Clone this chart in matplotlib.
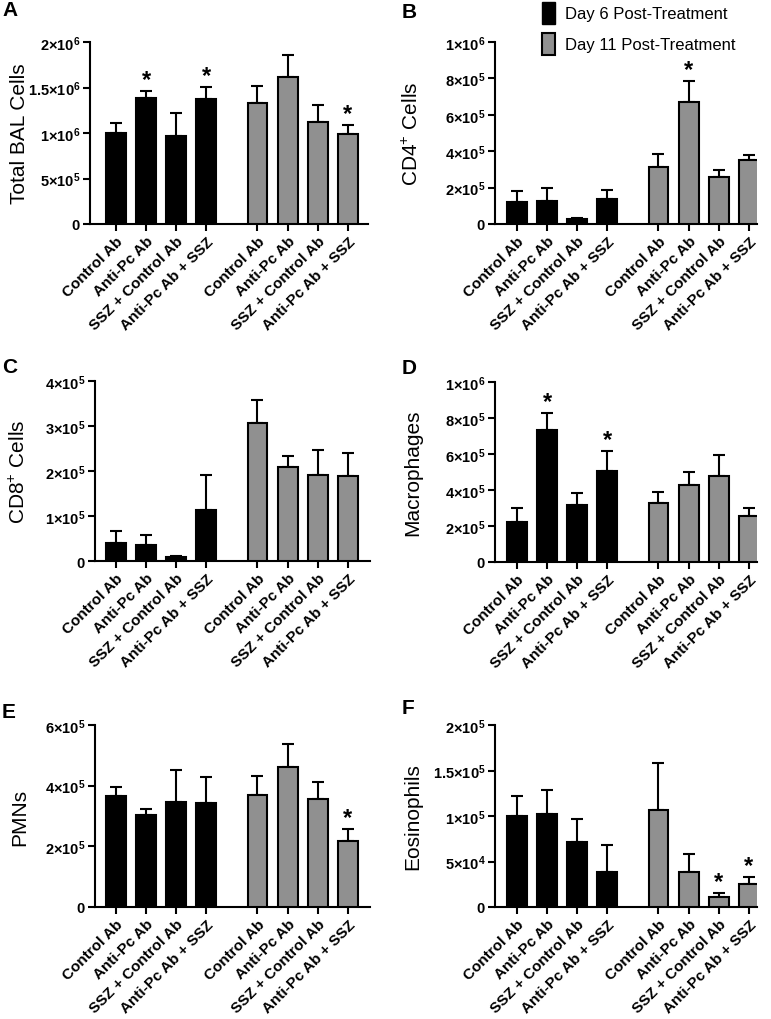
import numpy as np
import matplotlib
matplotlib.use('Agg')
import matplotlib.pyplot as plt
from matplotlib.patches import Patch
from matplotlib.transforms import blended_transform_factory

plt.rcParams['font.family'] = ['Liberation Sans', 'DejaVu Sans']
plt.rcParams['mathtext.fontset'] = 'custom'
plt.rcParams['mathtext.rm'] = 'Liberation Sans'
plt.rcParams['mathtext.it'] = 'Liberation Sans:italic'
plt.rcParams['mathtext.bf'] = 'Liberation Sans:bold'

# treatment groups, repeated for day 6 and day 11
groups = ['Control Ab', 'Anti-Pc Ab', 'SSZ + Control Ab', 'Anti-Pc Ab + SSZ']
days = ['Day 6 Post-Treatment', 'Day 11 Post-Treatment']

# mean and SEM per bar (first 4 = day 6, last 4 = day 11)
total_mean = [1.00e6, 1.38e6, 0.97e6, 1.37e6, 1.33e6, 1.62e6, 1.125e6, 0.99e6]
total_sem = [0.106e6, 0.085e6, 0.247e6, 0.14e6, 0.19e6, 0.24e6, 0.185e6, 0.10e6]
total_stars = [1, 3, 7]

cd4_mean = [1.2e5, 1.28e5, 0.27e5, 1.36e5, 3.15e5, 6.72e5, 2.57e5, 3.53e5]
cd4_sem = [0.6e5, 0.68e5, 0.08e5, 0.52e5, 0.7e5, 1.15e5, 0.41e5, 0.28e5]
cd4_stars = [5]

cd8_mean = [4.0e4, 3.6e4, 0.9e4, 1.13e5, 3.07e5, 2.08e5, 1.92e5, 1.88e5]
cd8_sem = [2.7e4, 2.2e4, 0.2e4, 0.79e5, 0.51e5, 0.26e5, 0.55e5, 0.52e5]
cd8_stars = []

mac_mean = [2.2e5, 7.33e5, 3.18e5, 5.07e5, 3.26e5, 4.3e5, 4.8e5, 2.57e5]
mac_sem = [0.78e5, 0.93e5, 0.65e5, 1.11e5, 0.61e5, 0.68e5, 1.14e5, 0.41e5]
mac_stars = [1, 3]

pmn_mean = [3.67e5, 3.03e5, 3.45e5, 3.42e5, 3.7e5, 4.6e5, 3.56e5, 2.16e5]
pmn_sem = [0.27e5, 0.2e5, 1.06e5, 0.85e5, 0.62e5, 0.76e5, 0.56e5, 0.41e5]
pmn_stars = [7]

eos_mean = [1.0e5, 1.02e5, 7.1e4, 3.9e4, 1.07e5, 3.8e4, 1.1e4, 2.5e4]
eos_sem = [2.2e4, 2.7e4, 2.6e4, 2.9e4, 5.1e4, 2.0e4, 0.4e4, 0.8e4]
eos_stars = [6, 7]

total_ticks = [0, 5e5, 1e6, 1.5e6, 2e6]
cd4_ticks = [0, 2e5, 4e5, 6e5, 8e5, 1e6]
cd8_ticks = [0, 1e5, 2e5, 3e5, 4e5]
mac_ticks = [0, 2e5, 4e5, 6e5, 8e5, 1e6]
pmn_ticks = [0, 2e5, 4e5, 6e5]
eos_ticks = [0, 5e4, 1e5, 1.5e5, 2e5]

W, H = 771, 1020
GRAY = '#909090'
PX_PER_UNIT = 30.1


def sci_label(v):
    if v == 0:
        return r'$\mathbf{0}$'
    exp = int(np.floor(np.log10(v)))
    mant = '%g' % (v / 10 ** exp)
    return r'$\mathbf{%s{\times}10^{%d}}$' % (mant, exp)


# panel: letter, ylabel, data, layout in pixels (left, right, top, bottom, first bar centre, letter x, letter y, ylabel x)
panels = [
    ('A', 'Total BAL Cells', total_mean, total_sem, total_stars, total_ticks, (90, 368, 43, 225, 116, 2, 5, 29)),
    ('B', 'CD4$^{+}$ Cells', cd4_mean, cd4_sem, cd4_stars, cd4_ticks, (495, 757, 43, 225, 517, 402, 7, 422)),
    ('C', 'CD8$^{+}$ Cells', cd8_mean, cd8_sem, cd8_stars, cd8_ticks, (95, 370, 382, 562, 116, 2, 362, 29)),
    ('D', 'Macrophages', mac_mean, mac_sem, mac_stars, mac_ticks, (495, 757, 383, 563, 517, 402, 363, 422)),
    ('E', 'PMNs', pmn_mean, pmn_sem, pmn_stars, pmn_ticks, (95, 370, 726, 908, 116, 2, 707, 29)),
    ('F', 'Eosinophils', eos_mean, eos_sem, eos_stars, eos_ticks, (495, 757, 726, 908, 517, 402, 703, 422)),
]

x = np.concatenate([np.arange(4), np.arange(4) + 4.7])
colors = ['black'] * 4 + [GRAY] * 4

fig = plt.figure(figsize=(W / 100, H / 100), dpi=100)

for letter, ylabel, mean, sem, stars, ticks, box in panels:
    l, r, t, b, c0, lx, ly, yx = box
    ax = fig.add_axes([l / W, 1 - b / H, (r - l) / W, (b - t) / H])
    mean = np.array(mean)
    sem = np.array(sem)
    ax.bar(x, mean, width=0.66, color=colors, edgecolor='black', linewidth=1.5, zorder=3)
    ax.errorbar(x, mean, yerr=[np.zeros_like(sem), sem], fmt='none', ecolor='black',
                elinewidth=1.5, capsize=4, capthick=1.5, zorder=2)
    for i in stars:
        ax.annotate('*', (x[i], mean[i] + sem[i]), xytext=(0, 0), textcoords='offset points',
                    ha='center', va='bottom', fontsize=17, fontweight='bold')

    ax.set_xlim((l - c0) / PX_PER_UNIT, (r - c0) / PX_PER_UNIT)
    ax.set_ylim(0, ticks[-1])
    ax.set_yticks(ticks)
    ax.set_yticklabels([sci_label(v) for v in ticks], fontsize=10.5)
    ax.set_xticks(x)
    ax.set_xticklabels(groups + groups, rotation=45, ha='right', rotation_mode='anchor',
                       fontsize=11, fontweight='bold')
    ax.tick_params(width=1.5, length=5, pad=2)
    for s in ['top', 'right']:
        ax.spines[s].set_visible(False)
    for s in ['left', 'bottom']:
        ax.spines[s].set_linewidth(1.5)

    ax.set_ylabel(ylabel, fontsize=15)
    ax.yaxis.set_label_coords(yx / W, 0.5, transform=blended_transform_factory(fig.transFigure, ax.transAxes))

    fig.text(lx / W, 1 - (ly - 4) / H, letter, fontsize=15, fontweight='bold', va='top', ha='left')

handles = [Patch(facecolor='black', edgecolor='black'), Patch(facecolor=GRAY, edgecolor='black', linewidth=1.5)]
fig.legend(handles, days, loc='upper left', bbox_to_anchor=(540 / W, 1 - 1 / H), frameon=False,
           fontsize=12, handlelength=0.8, handleheight=1.7, labelspacing=0.5, handletextpad=0.6,
           borderaxespad=0, borderpad=0.1)

fig.savefig('out.png', dpi=100)
